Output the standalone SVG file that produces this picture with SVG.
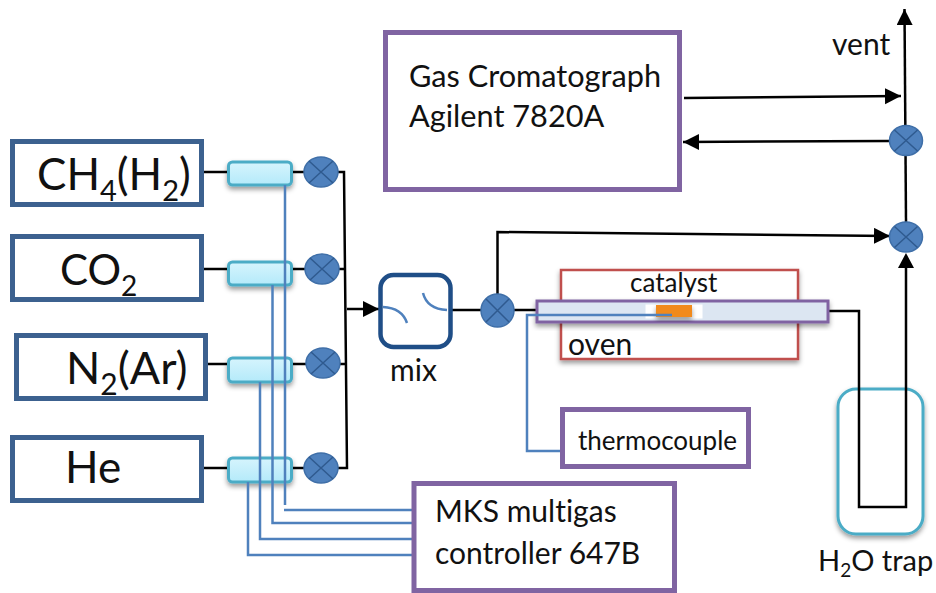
<svg xmlns="http://www.w3.org/2000/svg" width="936" height="593" viewBox="0 0 936 593">
<style>
text{font-family:"Lato","Noto Sans",sans-serif;fill:#111;font-variant-ligatures:none}
.src{fill:#fff;stroke:#3c618f;stroke-width:5}
.pur{fill:#fff;stroke:#8064a2;stroke-width:5}
.mfc{fill:url(#g);stroke:#4bacc6;stroke-width:3;filter:url(#s)}
.v ellipse{fill:#4f81bd;stroke:#3f6fa8;stroke-width:1.5}
.v path{fill:none;stroke:#2f5a8f;stroke-width:1.5}
.k{fill:none;stroke:#000;stroke-width:2.5}
.b{fill:none;stroke:#4f81bd;stroke-width:2.5}
.a{marker-end:url(#ah)}
</style>
<defs>
<linearGradient id="g" x1="0" y1="0" x2="0" y2="1"><stop offset="0" stop-color="#d6f4fd"/><stop offset="1" stop-color="#b4eafa"/></linearGradient>
<filter id="s" x="-20%" y="-30%" width="140%" height="170%"><feDropShadow dx="0" dy="3" stdDeviation="2.5" flood-color="#000" flood-opacity=".4"/></filter>
<marker id="ah" markerUnits="userSpaceOnUse" markerWidth="17" markerHeight="17" refX="16" refY="8" orient="auto"><path d="M0 0L16 8L0 16Z" fill="#000"/></marker>
</defs>
<g id="connectors">
<path class="k" d="M202 172H228M292 172H304M338 172H344L347 468H338M204 269H228M292 269H305M339 269H345M207 364H228M292 364H306M340 364H346M204 468H228M292 468H304"/>
<path class="k a" d="M347 309H379"/>
<path class="k" d="M452 310H481M514 310H537"/>
<path class="k a" d="M497.500 294V232L890 236"/>
<path class="k a" d="M906 222L904.500 9"/>
<path class="k a" d="M684 98L901 96"/>
<path class="k a" d="M889 141L683 142"/>
</g>
<g id="oven"><rect x="561" y="270" width="237" height="89" fill="#fff" stroke="#c0504d" stroke-width="2.500" filter="url(#s)"/><text x="630" y="292" font-size="26">catalyst</text><text x="568" y="355" font-size="30">oven</text></g>
<g id="trap"><rect x="838" y="389" width="85" height="145" rx="18" fill="#fff" stroke="#4bacc6" stroke-width="3" filter="url(#s)"/>
<path class="k" d="M829 311H859V507H906V265"/><path d="M898 268L906 253L914 268Z" fill="#000"/>
<text x="818" y="571" font-size="29">H<tspan font-size="19" dy="6">2</tspan><tspan dy="-6">O trap</tspan></text></g>
<g id="ch4"><rect class="src" x="12.500" y="141.500" width="189" height="63"/><text x="37" y="190" font-size="44">CH<tspan font-size="29" dy="11">4</tspan><tspan dy="-11">(H</tspan><tspan font-size="29" dy="11">2</tspan><tspan dy="-11">)</tspan></text></g>
<g id="co2"><rect class="src" x="12.500" y="236.500" width="189" height="63"/><text x="60" y="285" font-size="42">CO<tspan font-size="28" dy="11">2</tspan></text></g>
<g id="n2"><rect class="src" x="16.500" y="335.500" width="189" height="63"/><text x="66" y="384" font-size="45">N<tspan font-size="30" dy="11">2</tspan><tspan dy="-11">(Ar)</tspan></text></g>
<g id="he"><rect class="src" x="12.500" y="437.500" width="189" height="63"/><text x="65" y="483" font-size="44">He</text></g>
<g id="mfc1"><rect class="mfc" x="228.500" y="162" width="63" height="23" rx="4"/></g>
<g id="mfc2"><rect class="mfc" x="228.500" y="262" width="63" height="23" rx="4"/></g>
<g id="mfc3"><rect class="mfc" x="228.500" y="358" width="63" height="24" rx="4"/></g>
<g id="mfc4"><rect class="mfc" x="228.500" y="458" width="63" height="24" rx="4"/></g>
<g id="valve1" class="v" transform="translate(321 172)"><ellipse rx="17" ry="15"/><path d="M-12-11L12 11M-12 11L12-11"/></g>
<g id="valve2" class="v" transform="translate(322 269)"><ellipse rx="17" ry="15"/><path d="M-12-11L12 11M-12 11L12-11"/></g>
<g id="valve3" class="v" transform="translate(323 363)"><ellipse rx="17" ry="15"/><path d="M-12-11L12 11M-12 11L12-11"/></g>
<g id="valve4" class="v" transform="translate(321 468)"><ellipse rx="17" ry="15"/><path d="M-12-11L12 11M-12 11L12-11"/></g>
<g id="mix"><rect x="380.500" y="275" width="70" height="72" rx="13" fill="#fff" stroke="#1f4e87" stroke-width="4.500"/><path class="b" d="M383 307Q402 308 407 323M423 293Q427 309 447 310"/><text x="390" y="381" font-size="30">mix</text></g>
<g id="valve5" class="v" transform="translate(497.500 310.500)"><ellipse rx="16.500" ry="16.500"/><path d="M-11.500-11.500L11.500 11.500M-11.500 11.500L11.500-11.500"/></g>
<g id="valve6" class="v" transform="translate(906 140.500)"><ellipse rx="16.500" ry="15"/><path d="M-11.500-10.500L11.500 10.500M-11.500 10.500L11.500-10.500"/></g>
<g id="valve7" class="v" transform="translate(906 237)"><ellipse rx="16.500" ry="15"/><path d="M-11.500-10.500L11.500 10.500M-11.500 10.500L11.500-10.500"/></g>
<g id="tube"><rect x="537" y="301" width="291" height="21" fill="#dce6f2" stroke="#8064a2" stroke-width="3" filter="url(#s)"/><rect x="645" y="304" width="58" height="15" fill="#fff" stroke="#dce6f2"/><rect x="656" y="305" width="36" height="12" fill="#f18a1f" filter="url(#s)"/></g>
<path id="tc-wire" class="b" d="M672 315H527V451H563"/>
<g id="thermocouple"><rect class="pur" x="562.500" y="409.500" width="186" height="57"/><text x="578" y="450" font-size="26">thermocouple</text></g>
<g id="gc"><rect class="pur" x="385.500" y="32.500" width="294" height="157"/><text x="409" y="87" font-size="30.700">Gas Cromatograph</text><text x="409" y="127" font-size="30.700">Agilent 7820A</text></g>
<g id="wires"><path class="b" d="M285 185V505M284 510H416M272.500 285V523H414M260 382V539H414M248 482V555H414"/></g>
<g id="mks"><rect class="pur" x="414" y="483.500" width="260.500" height="107"/><text x="435" y="522" font-size="30">MKS multigas</text><text x="435" y="564" font-size="30">controller 647B</text></g>
<text id="vent" x="832" y="55" font-size="30">vent</text>
</svg>
